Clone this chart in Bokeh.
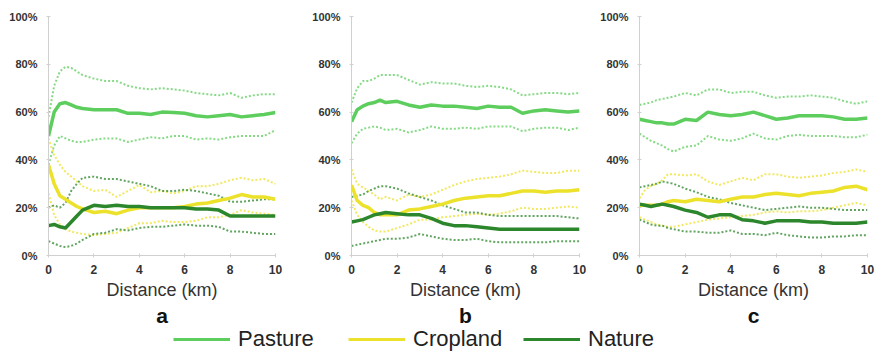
from bokeh.plotting import figure
from bokeh.models import (Range1d, Title, Legend, LegendItem, PrintfTickFormatter,
                          FixedTicker, ColumnDataSource)
from bokeh.layouts import row, column
from bokeh.embed import file_html
from bokeh.resources import INLINE

# distance (km) sampling grid shared by all series
DIST = [0, 0.25, 0.5, 0.75, 1, 1.25, 1.5, 2, 2.5, 3, 3.5, 4, 4.5, 5, 5.5, 6,
        6.5, 7, 7.5, 8, 8.5, 9, 9.5, 10]

# ---- panel a (percent) ----
A_PASTURE = [50, 60, 63.5, 64, 63, 62, 61.5, 61, 61, 61, 59.5, 59.5, 59, 60, 59.8, 59.5,
             58.5, 58, 58.5, 59, 58, 58.5, 59, 59.8]
A_PASTURE_HI = [58, 71, 77, 79, 78.5, 77, 75.5, 74, 73, 73, 71, 70, 69.5, 70, 69.5, 69,
                68, 67.5, 67, 68, 66, 67, 67.5, 67.5]
A_PASTURE_LO = [38, 46, 50, 49, 48, 47.5, 47.5, 48.5, 49, 49, 47.5, 48.5, 49.5, 49, 50, 50,
                48.5, 49, 48.5, 49.5, 50, 50, 50, 52.5]
A_CROP = [38, 30, 25, 23.5, 22, 20.5, 19.5, 18, 18.5, 17.5, 19, 20, 20, 20, 20, 20.5,
          21.5, 22, 23, 24, 25.5, 24.5, 24.5, 23.5]
A_CROP_HI = [49, 42, 38, 35, 33, 31, 29, 27, 27.5, 24.5, 27, 29.5, 26.5, 27, 26, 27,
             29, 29, 30, 31.5, 32.5, 31.5, 32, 30]
A_CROP_LO = [26, 17, 13, 11, 10, 9.5, 9, 8.5, 9, 9.5, 11.5, 13.5, 13.5, 14.5, 14, 14,
             14.5, 16, 16, 17, 19, 18, 17.5, 17]
A_NATURE = [12.5, 13, 12, 11.5, 14, 16.5, 19, 21, 20.5, 21, 20.5, 20.5, 20, 20, 20, 20,
            19.5, 19.5, 19, 16.5, 16.5, 16.5, 16.5, 16.5]
A_NATURE_HI = [20, 21, 20, 22, 27, 30, 32.5, 33, 32, 32, 31, 30, 29, 27, 27, 27.5,
               27, 26, 25, 22.5, 22.5, 23, 23.5, 23.5]
A_NATURE_LO = [6, 5, 4, 3.5, 4, 5, 6.5, 9, 9.5, 11, 10.5, 11.5, 12, 12, 12.5, 13,
               12.5, 12.5, 12, 10, 10, 9.5, 9, 9]

# ---- panel b ----
B_PASTURE = [56, 61, 62.5, 63.5, 64, 65, 64, 64.5, 63, 62, 63, 62.5, 62.5, 62, 61.5, 62.5,
             62, 62, 59.5, 60.5, 61, 60.5, 60, 60.5]
B_PASTURE_HI = [64, 70, 73, 73, 74, 75.5, 75.5, 75.5, 73.5, 71.5, 72.5, 72, 72, 71, 70.5, 71,
                70.5, 69.5, 67, 67.5, 68, 68, 67.5, 68]
B_PASTURE_LO = [47, 51, 53, 53.5, 54, 53.5, 52.5, 53, 51.5, 52.5, 54, 53, 53, 53.5, 53, 54,
                54, 54, 52, 53, 53.5, 53.5, 52.5, 53.5]
B_CROP = [29.5, 23, 21, 20, 18, 17, 17, 17, 19, 19.5, 20.5, 21.5, 23, 24, 24.5, 25,
          25, 26, 27, 27, 26.5, 27, 27, 27.5]
B_CROP_HI = [36, 30, 28.5, 27, 25.5, 23.5, 24.5, 23, 25.5, 24.5, 25.5, 27.5, 29.5, 31, 32, 32.5,
             33, 34, 35.5, 35, 34.5, 34.5, 35.5, 35.5]
B_CROP_LO = [23, 17, 14, 12, 10.5, 10, 10, 11.5, 13, 15, 15, 16, 16.5, 17, 17.5, 17,
             17.5, 18.5, 20, 19.5, 19.5, 20, 20.5, 20]
B_NATURE = [14, 14.5, 15, 16, 17, 17.5, 18, 17.5, 17, 17, 15.5, 13.5, 12.5, 12.5, 12, 11.5,
            11, 11, 11, 11, 11, 11, 11, 11]
B_NATURE_HI = [24.5, 25, 25.5, 27, 28, 29, 29, 28, 26, 24.5, 23, 21, 19.5, 18, 18, 17,
               16.5, 16.5, 16.5, 16.5, 16.5, 16.5, 16, 15.5]
B_NATURE_LO = [4, 4.5, 5, 5.5, 6, 6.5, 7, 7, 7.5, 9, 8, 7, 6.5, 6.5, 7, 6,
               5.5, 5.5, 5.5, 5.5, 5.5, 6, 6, 6]

# ---- panel c ----
C_PASTURE = [57, 56.5, 56, 55.5, 55.5, 55, 55, 57, 56.5, 60, 59, 58.5, 59, 60, 58.5, 57,
             57.5, 58.5, 58.5, 58.5, 58, 57, 57, 57.5]
C_PASTURE_HI = [63, 63.5, 64, 65, 65.5, 66, 66.5, 68, 67, 69.5, 69.5, 68, 68.5, 68.5, 67, 66,
                66.5, 66.5, 67, 66.5, 66, 64.5, 63.5, 64.5]
C_PASTURE_LO = [51, 49.5, 48, 47, 46, 44.5, 43.5, 45.5, 46, 50, 48.5, 48, 49, 51, 49, 48.5,
                50, 50.5, 50, 50, 50, 49.5, 49.5, 50.5]
C_CROP = [21, 21, 21, 21, 21.5, 22.5, 23, 22.5, 23.5, 23, 22.5, 23.5, 24.5, 24.5, 25.5, 26,
          25.5, 25, 26, 26.5, 27, 28.5, 29, 27.5]
C_CROP_HI = [24, 27.5, 29, 30, 31.5, 34, 34, 33.5, 34, 31, 29.5, 31, 32.5, 31.5, 34, 34,
             33, 32.5, 33, 33.5, 34.5, 35, 36, 35]
C_CROP_LO = [16, 15, 14, 13, 12.5, 12, 12, 13, 14, 15, 15.5, 16, 16.5, 17, 18, 18.5,
             18, 18.5, 18.5, 19, 20, 21, 22, 21]
C_NATURE = [21.5, 21, 20.5, 21, 21.5, 21, 20.5, 19, 18, 16, 17, 17, 15, 14.5, 13.5, 14.5,
            14.5, 14.5, 14, 14, 13.5, 13.5, 13.5, 14]
C_NATURE_HI = [28.5, 29, 29.5, 30, 31, 30.5, 30, 28, 26.5, 24.5, 23.5, 22, 21, 20, 19, 19.5,
               20, 20.5, 20, 20, 19.5, 19, 19, 19]
C_NATURE_LO = [15, 14, 13, 12.5, 12.5, 11.5, 11, 10, 10, 9.5, 9.5, 10.5, 9, 9, 8.5, 9.5,
               8.5, 8, 7.5, 7.5, 8, 8, 8.5, 8.5]

CATEGORIES = ["Pasture", "Cropland", "Nature"]
COLORS = {"Pasture": "#5dce5d", "Cropland": "#ece22c", "Nature": "#2c872c"}
X_TICKS = [0, 2, 4, 6, 8, 10]
Y_TICKS = [0, 20, 40, 60, 80, 100]
X_LABEL = "Distance (km)"
PANEL_LETTERS = ["a", "b", "c"]

PANELS = [
    {"Pasture": (A_PASTURE, A_PASTURE_HI, A_PASTURE_LO),
     "Cropland": (A_CROP, A_CROP_HI, A_CROP_LO),
     "Nature": (A_NATURE, A_NATURE_HI, A_NATURE_LO)},
    {"Pasture": (B_PASTURE, B_PASTURE_HI, B_PASTURE_LO),
     "Cropland": (B_CROP, B_CROP_HI, B_CROP_LO),
     "Nature": (B_NATURE, B_NATURE_HI, B_NATURE_LO)},
    {"Pasture": (C_PASTURE, C_PASTURE_HI, C_PASTURE_LO),
     "Cropland": (C_CROP, C_CROP_HI, C_CROP_LO),
     "Nature": (C_NATURE, C_NATURE_HI, C_NATURE_LO)},
]

FONT = "Liberation Sans"
# (left border, frame width, right border, label offset, letter offset)
GEOM = [(48, 227, 25, 5, -5), (51, 228, 18, 17, 20), (34, 228, 17, 4, 4)]


def make_panel(idx):
    left, fw, right, lab_off, let_off = GEOM[idx]
    p = figure(frame_width=fw, frame_height=239, output_backend="svg", toolbar_location=None,
               x_range=Range1d(0, 10), y_range=Range1d(0, 100),
               min_border_left=left, min_border_right=right, min_border_top=16,
               min_border_bottom=0)
    p.outline_line_color = None
    p.grid.visible = False
    data = PANELS[idx]
    for cat in CATEGORIES:
        mean, hi, lo = data[cat]
        src = ColumnDataSource(dict(x=DIST, hi=hi, lo=lo))
        for col in ("hi", "lo"):
            p.line("x", col, source=src, line_color=COLORS[cat], line_width=2,
                   line_dash="2 2", line_alpha=0.75)
    for cat in CATEGORIES:
        mean = data[cat][0]
        src = ColumnDataSource(dict(x=DIST, mean=mean))
        p.line("x", "mean", source=src, line_color=COLORS[cat], line_width=3.5)

    p.xaxis.ticker = FixedTicker(ticks=X_TICKS)
    p.yaxis.ticker = FixedTicker(ticks=Y_TICKS)
    p.yaxis.formatter = PrintfTickFormatter(format="%d%%")
    for ax in (p.xaxis[0], p.yaxis[0]):
        ax.axis_line_color = "#d0d0d0"
        ax.major_tick_line_color = "#d0d0d0"
        ax.major_tick_in = 2
        ax.major_tick_out = 2
        ax.minor_tick_line_color = None
        ax.major_label_text_font = FONT
        ax.major_label_text_font_style = "bold"
        ax.major_label_text_color = "#333333"
    p.yaxis.major_label_text_font_size = "11px"
    p.yaxis.major_label_standoff = 9
    p.xaxis.major_label_text_font_size = "12px"
    p.xaxis.major_label_standoff = 7
    t1 = Title(text=X_LABEL, align="center", text_font=FONT, text_font_size="18px",
               text_font_style="normal", text_color="#333333", standoff=3, offset=lab_off)
    p.add_layout(t1, "below")
    t2 = Title(text=PANEL_LETTERS[idx], align="center", text_font=FONT,
               text_font_size="21px", text_font_style="bold", text_color="#111111",
               standoff=0, offset=let_off)
    p.add_layout(t2, "below")
    return p


panels = [make_panel(i) for i in range(3)]

leg = figure(width=875, height=26, output_backend="svg", toolbar_location=None,
             x_range=Range1d(0, 1), y_range=Range1d(0, 1),
             x_axis_type=None, y_axis_type=None, min_border=0)
leg.outline_line_color = None
leg.grid.visible = False
items = []
for cat in CATEGORIES:
    # off-range placeholder so the legend glyph is drawn
    r = leg.line(x=[5, 6], y=[5, 5], line_color=COLORS[cat], line_width=3)
    items.append(LegendItem(label=cat, renderers=[r]))
legend = Legend(items=items, orientation="horizontal", location=(173, 0),
                glyph_width=57, glyph_height=20, label_standoff=8, label_width=110,
                spacing=0, padding=0, margin=0,
                label_text_font=FONT, label_text_font_size="22px",
                label_text_color="#222222",
                border_line_color=None, background_fill_alpha=0)
leg.add_layout(legend, "center")

layout = column(row(*panels, spacing=0), leg, spacing=0)

open("out.html", "w").write(file_html(layout, INLINE))
